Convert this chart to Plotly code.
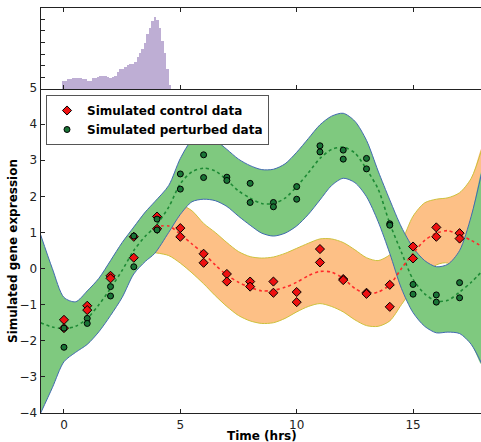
import plotly.graph_objects as go

# ---------------- data ----------------
# observation times and replicate values
ctrl_t = [0,0,1,1,2,2,3,3,4,4,5,5,6,6,7,7,8,8,9,9,10,10,11,11,12,12,13,13,14,14,15,15,16,16,17,17]
ctrl_y = [-1.42,-1.65,-1.03,-1.15,-0.20,-0.27,0.30,0.88,1.44,1.10,1.12,0.88,0.41,0.16,-0.15,-0.36,
          -0.36,-0.50,-0.36,-0.67,-0.65,-0.93,0.54,0.17,-0.29,-0.32,-0.67,-0.70,-0.45,-1.06,
          0.61,0.28,1.14,0.88,0.98,0.83]
pert_t = [0,0,1,1,2,2,3,3,4,4,5,5,6,6,7,7,8,8,9,9,10,10,11,11,12,12,13,13,14,14,15,15,16,16,17,17]
pert_y = [-1.65,-2.18,-1.38,-1.52,-0.50,-0.76,0.90,0.05,1.37,1.07,2.62,2.20,3.15,2.52,2.53,2.44,
          2.36,1.83,1.83,1.71,2.27,1.92,3.40,3.23,3.28,3.03,3.05,2.76,1.24,1.20,
          -0.44,-0.71,-0.73,-0.93,-0.39,-0.81]

# perturbed GP: mean and confidence band
pert_x = [-1,-0.5,0,0.5,1,1.5,2,2.5,3,3.5,3.9,4.5,5,5.5,6,6.5,7,7.5,8,8.5,9,9.5,10,10.5,11,11.5,
          12,12.5,13,13.5,14,14.5,15,15.5,16,16.5,17,17.5,18]
pert_mean = [-1.50,-1.62,-1.66,-1.60,-1.38,-1.00,-0.55,-0.05,0.50,0.90,1.15,1.70,2.35,2.68,2.78,2.70,
             2.45,2.15,1.95,1.80,1.80,1.95,2.27,2.65,3.05,3.30,3.36,3.20,2.75,2.20,1.25,0.45,
             -0.30,-0.70,-0.90,-0.88,-0.65,-0.38,-0.05]
pert_upper = [0.93,0.00,-0.80,-0.92,-0.62,-0.27,0.22,0.72,1.15,1.57,1.85,2.30,3.05,3.55,3.66,3.55,
              3.30,3.03,2.85,2.74,2.75,2.90,3.22,3.60,3.98,4.22,4.30,4.08,3.55,2.70,1.90,1.15,
              0.58,0.22,0.05,0.12,0.50,1.45,2.80]
pert_lower = [-4.00,-3.30,-2.58,-2.32,-2.10,-1.75,-1.30,-0.80,-0.15,0.20,0.42,1.00,1.50,1.85,1.92,1.88,
              1.72,1.45,1.20,0.98,0.90,0.98,1.18,1.50,1.90,2.30,2.50,2.38,1.99,1.30,0.42,-0.55,
              -1.22,-1.60,-1.78,-1.76,-1.80,-2.10,-2.70]

# control GP (after branching): mean and confidence band
ctrl_x = [3.9,4.5,5,5.5,6,6.5,7,7.5,8,8.5,9,9.5,10,10.5,11,11.5,12,12.5,13,13.5,14,14.5,15,15.5,
          16,16.5,17,17.5,18]
ctrl_mean = [1.15,1.18,0.95,0.68,0.42,0.10,-0.18,-0.38,-0.52,-0.62,-0.60,-0.52,-0.38,-0.20,-0.08,
             -0.10,-0.27,-0.55,-0.70,-0.65,-0.45,0.00,0.42,0.78,0.98,1.05,0.93,0.78,0.60]
ctrl_upper = [1.20,1.55,1.75,1.60,1.25,1.00,0.72,0.47,0.33,0.29,0.32,0.42,0.56,0.70,0.82,0.82,
              0.72,0.52,0.30,0.22,0.38,0.75,1.45,1.82,1.92,1.96,2.10,2.50,3.40]
ctrl_lower = [0.44,0.36,0.15,-0.12,-0.42,-0.75,-1.05,-1.30,-1.45,-1.52,-1.50,-1.38,-1.20,-1.05,
              -0.97,-1.05,-1.20,-1.42,-1.58,-1.60,-1.45,-1.00,-0.55,-0.20,0.10,0.15,-0.30,-1.00,-2.20]

# histogram of branching-time samples
hist_start = -0.09
hist_width = 0.1065
hist_counts = [7,7,8,8,9,9,9,9,8,8,7,7,9,9,10,11,11,11,10,9,10,11,14,17,17,19,20,21,21,23,
               27,31,34,39,47,52,58,62,59,52,41,31,17,3]
hist_centers = [hist_start + hist_width * (i + 0.5) for i in range(len(hist_counts))]

x_ticks = [0, 5, 10, 15]

# ---------------- styles ----------------
FONT = "DejaVu Sans"
GREEN_FILL = "#7fc97f"
GREEN_EDGE = "#4169b0"
ORANGE_FILL = "#fdc086"
ORANGE_EDGE = "#cdc03c"
PURPLE = "#beaed4"

fig = go.Figure()

def band(x, up, lo, fill, edge):
    fig.add_trace(go.Scatter(x=x + x[::-1], y=up + lo[::-1], mode="lines", fill="toself",
                             fillcolor=fill, line=dict(width=0, shape="spline", smoothing=0.8),
                             hoverinfo="skip", showlegend=False))
    for yy in (up, lo):
        fig.add_trace(go.Scatter(x=x, y=yy, mode="lines",
                                 line=dict(color=edge, width=1, shape="spline", smoothing=0.8),
                                 hoverinfo="skip", showlegend=False))

band(ctrl_x, ctrl_upper, ctrl_lower, ORANGE_FILL, ORANGE_EDGE)
band(pert_x, pert_upper, pert_lower, GREEN_FILL, GREEN_EDGE)

fig.add_trace(go.Scatter(x=pert_x, y=pert_mean, mode="lines",
                         line=dict(color="#1e8a35", width=1.6, dash="3px,3px", shape="spline", smoothing=0.8),
                         showlegend=False, hoverinfo="skip"))
fig.add_trace(go.Scatter(x=ctrl_x, y=ctrl_mean, mode="lines",
                         line=dict(color="#ff2a2a", width=1.6, dash="3px,3px", shape="spline", smoothing=0.8),
                         showlegend=False, hoverinfo="skip"))

fig.add_trace(go.Scatter(x=ctrl_t, y=ctrl_y, mode="markers", name="<b>Simulated control data</b>",
                         marker=dict(symbol="diamond", size=7, color="#ee1111",
                                     line=dict(color="black", width=1))))
fig.add_trace(go.Scatter(x=pert_t, y=pert_y, mode="markers", name="<b>Simulated perturbed data</b>",
                         marker=dict(symbol="circle", size=6, color="#1a7436",
                                     line=dict(color="black", width=1))))

fig.add_trace(go.Bar(x=hist_centers, y=hist_counts, width=hist_width, marker=dict(color=PURPLE, line=dict(width=0)),
                     xaxis="x2", yaxis="y2", showlegend=False, hoverinfo="skip"))

W, H = 481, 442
x_dom = [40.7 / W, 1.0]
axis_common = dict(showgrid=False, zeroline=False, showline=True, linecolor="#222", linewidth=1.3,
                   ticks="inside", ticklen=4, tickcolor="#222", automargin=False)
tickfont = dict(family=FONT, size=12, color="#222")

fig.update_layout(
    width=W, height=H, margin=dict(l=0, r=0, t=0, b=0, pad=0, autoexpand=False),
    paper_bgcolor="white", plot_bgcolor="rgba(0,0,0,0)",
    bargap=0,
    font=dict(family=FONT),
    xaxis=dict(domain=x_dom, range=[-1, 17.92], tickvals=x_ticks, anchor="y", tickfont=tickfont, **axis_common),
    yaxis=dict(domain=[29 / H, 354 / H], range=[-4, 5], dtick=1, anchor="x", tickfont=tickfont, **axis_common),
    xaxis2=dict(domain=x_dom, range=[-1, 17.92], tickvals=x_ticks, anchor="y2", showticklabels=False,
                mirror="ticks", **axis_common),
    yaxis2=dict(domain=[353 / H, 433.7 / H], range=[0, 69.4], dtick=10, anchor="x2", showticklabels=False,
                **axis_common),
    legend=dict(x=46 / W, y=(H - 95) / H, xanchor="left", yanchor="top",
                bgcolor="white", bordercolor="#555", borderwidth=1,
                font=dict(family=FONT, size=12, color="black"), tracegroupgap=2),
    annotations=[
        dict(text="<b>Time (hrs)</b>", x=262 / W, y=(H - 436) / H, xref="paper", yref="paper",
             xanchor="center", yanchor="middle",
             showarrow=False, font=dict(family=FONT, size=12, color="black")),
        dict(text="<b>Simulated gene expression</b>", x=13 / W, y=(H - 251) / H, xref="paper", yref="paper",
             xanchor="center", yanchor="middle",
             showarrow=False, textangle=-90, font=dict(family=FONT, size=12, color="black")),
    ],
)

fig.write_html("out.html")
